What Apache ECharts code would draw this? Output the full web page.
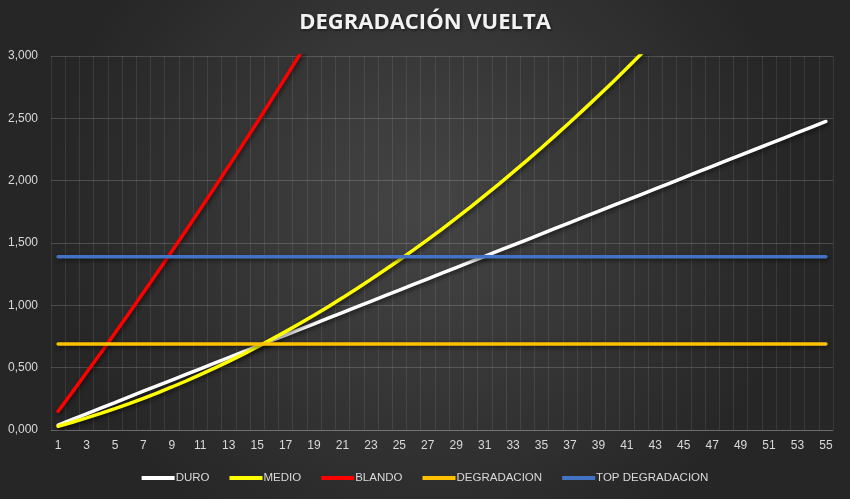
<!DOCTYPE html>
<html>
<head>
<meta charset="utf-8">
<script src="https://cdn.jsdelivr.net/npm/echarts@6/dist/echarts.min.js"></script>
<style>html,body{margin:0;padding:0;background:#333;}#c{width:850px;height:499px;}</style>
</head>
<body>
<div id="c"></div>
<script>
const categories = [];
for (let i = 1; i <= 55; i++) categories.push(String(i));

const duro = [0.040,0.085,0.130,0.175,0.220,0.266,0.311,0.356,0.401,0.446,
  0.491,0.536,0.581,0.626,0.671,0.717,0.762,0.807,0.852,0.897,
  0.942,0.987,1.032,1.077,1.122,1.168,1.213,1.258,1.303,1.348,
  1.393,1.438,1.483,1.528,1.573,1.619,1.664,1.709,1.754,1.799,
  1.844,1.889,1.934,1.979,2.024,2.070,2.115,2.160,2.205,2.250,
  2.295,2.340,2.385,2.430,2.475];

const medio = [0.030,0.062,0.097,0.133,0.171,0.212,0.254,0.298,0.345,0.393,
  0.444,0.496,0.551,0.607,0.666,0.727,0.789,0.854,0.921,0.989,
  1.060,1.133,1.208,1.285,1.364,1.445,1.527,1.612,1.699,1.788,
  1.880,1.973,2.068,2.165,2.264,2.365,2.468,2.574,2.681,2.790,
  2.902,3.015,3.130,3.250,3.370];

const blando = [0.150,0.304,0.461,0.618,0.778,0.939,1.102,1.267,1.434,1.602,
  1.772,1.944,2.117,2.293,2.469,2.648,2.829,3.011,3.195,3.380];

const degradacion = Array(55).fill(0.69);
const topDegradacion = Array(55).fill(1.39);

const seriesNames = ['DURO','MEDIO','BLANDO','DEGRADACION','TOP DEGRADACION'];
const seriesColors = ['#FFFFFF','#FFFF00','#FF0000','#FFC000','#4472C4'];
const seriesData = [duro, medio, blando, degradacion, topDegradacion];

const chart = echarts.init(document.getElementById('c'));
const font = 'Liberation Sans, Arial, sans-serif';
chart.setOption({
  backgroundColor: {
    type: 'radial', x: 0.5, y: 0.42, r: 0.75,
    colorStops: [{offset: 0, color: '#454545'}, {offset: 1, color: '#262626'}]
  },
  animation: false,
  title: {
    text: 'DEGRADACIÓN VUELTA',
    left: 'center', top: 7,
    textStyle: {
      color: '#F2F2F2', fontSize: 22, fontWeight: 'bold', fontFamily: 'Open Sans, sans-serif',
      textShadowColor: 'rgba(0,0,0,0.6)', textShadowBlur: 3, textShadowOffsetX: 1, textShadowOffsetY: 1
    }
  },
  legend: {
    data: seriesNames,
    bottom: 10, left: 'center',
    icon: 'rect', itemWidth: 33, itemHeight: 4, itemGap: 20,
    textStyle: {color: '#D9D9D9', fontSize: 11.5, fontFamily: font, padding: [0,0,0,-4]}
  },
  grid: {left: 51, right: 17, top: 56, bottom: 69, containLabel: false},
  xAxis: {
    type: 'category', data: categories, boundaryGap: true,
    axisLine: {show: true, lineStyle: {color: 'rgba(255,255,255,0.18)'}},
    axisTick: {show: false},
    axisLabel: {interval: 1, color: '#D9D9D9', fontSize: 12, fontFamily: font, margin: 10},
    splitLine: {show: true, interval: 0, lineStyle: {color: 'rgba(255,255,255,0.09)', width: 1}}
  },
  yAxis: {
    type: 'value', min: 0, max: 3, interval: 0.5,
    axisLine: {show: false}, axisTick: {show: false},
    axisLabel: {color: '#D9D9D9', fontSize: 12, fontFamily: font, margin: 13,
      formatter: v => v.toFixed(3).replace('.', ',')},
    splitLine: {show: true, lineStyle: {color: 'rgba(255,255,255,0.17)', width: 1}}
  },
  series: seriesNames.map((n, i) => ({
    name: n, type: 'line', data: seriesData[i], symbol: 'none', smooth: false, clip: true,
    itemStyle: {color: seriesColors[i]},
    lineStyle: {color: seriesColors[i], width: 3.5, cap: 'round',
      shadowColor: 'rgba(0,0,0,0.55)', shadowBlur: 4, shadowOffsetX: 1.5, shadowOffsetY: 2}
  }))
});
</script>
</body>
</html>
